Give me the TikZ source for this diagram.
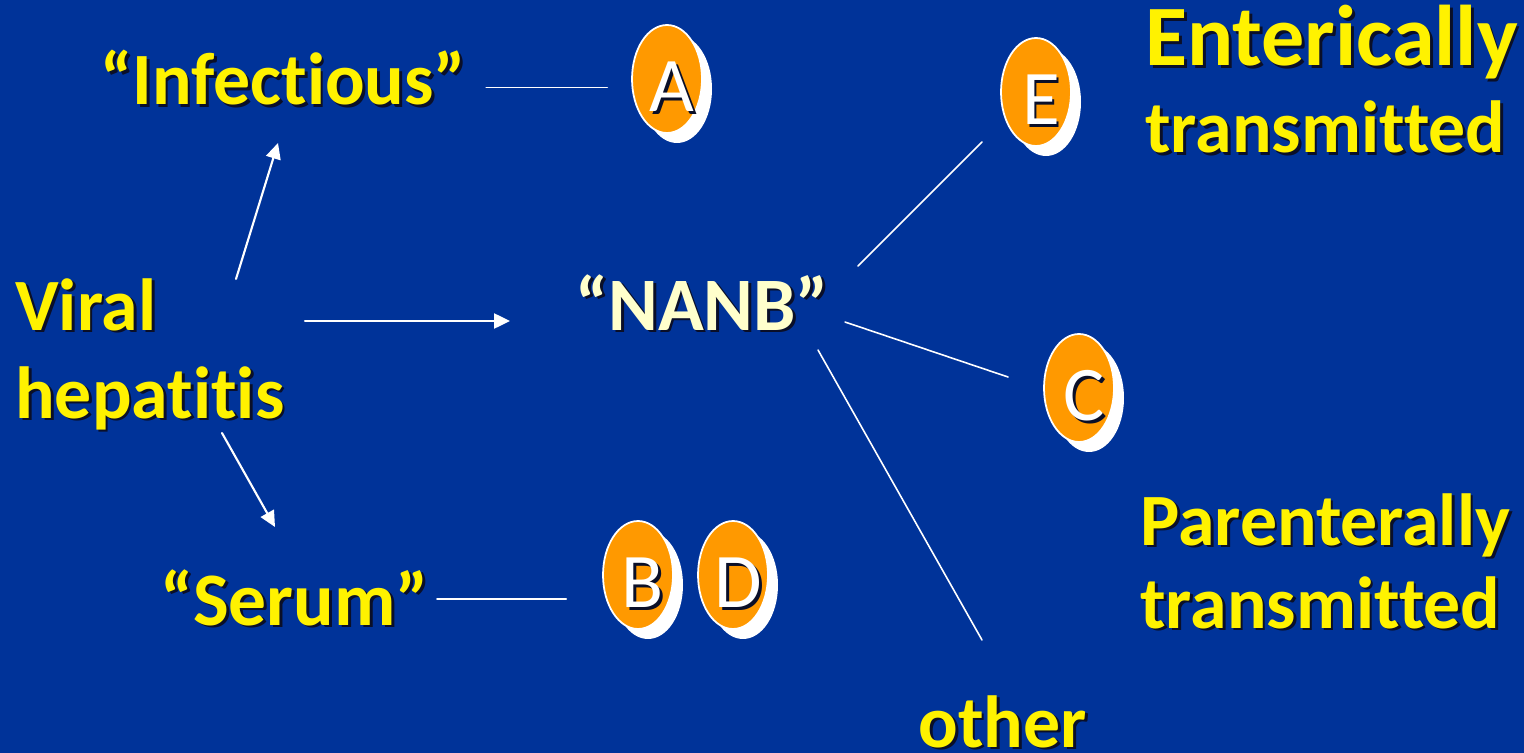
\documentclass[tikz,border=0pt]{standalone}
\usepackage{fontspec}
\setmainfont{Carlito}[Ligatures={NoCommon,NoRare,NoContextual}]
\usetikzlibrary{arrows.meta,shapes.geometric,shadows}
\definecolor{slideblue}{RGB}{0,51,153}
\definecolor{badgeorange}{RGB}{255,153,0}
\definecolor{paleyellow}{RGB}{255,255,204}
\definecolor{txtshadow}{RGB}{10,15,40}
\newcommand\sh[1]{\makebox[0pt][l]{\kern1.6pt\raisebox{-1.6pt}{\color{txtshadow}#1}}#1}
\tikzset{
    lbl/.style={font=\bfseries\fontsize{42}{50}\selectfont, text=yellow, inner sep=0pt, anchor=base west, align=left},
    badge/.style={ellipse, draw=white, line width=1pt, fill=badgeorange, minimum width=1.4cm, minimum height=2.16cm, inner sep=0pt,
        drop shadow={fill=white, opacity=1, shadow xshift=0.2cm, shadow yshift=-0.2cm}},
    letter/.style={font=\fontsize{44}{50}\selectfont, text=white, inner sep=0pt},
    link/.style={white, line width=0.9pt},
    arr/.style={white, line width=1.2pt, -{Triangle[length=9pt, width=8.5pt]}}
}
\begin{document}
\begin{tikzpicture}[x=0.02cm, y=-0.02cm, line cap=round]
    \fill[slideblue] (0,0) rectangle (1524,753);
    \useasboundingbox (0,0) rectangle (1524,753);
    % labels
    \node[lbl] (viral) at (15,418) {\sh{Viral}\\\sh{hepatitis}};
    \node[lbl] (infect) at (100,105) {\sh{“Infectious”}};
    \node[lbl, text=paleyellow, font=\bfseries\fontsize{43}{50}\selectfont] (nanb) at (575,330) {\sh{“NANB”}};
    \node[lbl, font=\bfseries\fontsize{43}{50}\selectfont] (serum) at (160,625) {\sh{“Serum”}};
    \node[lbl] (other) at (918,747) {\sh{other}};
    \node[lbl, font=\bfseries\fontsize{49}{50}\selectfont] (enter) at (1145,66) {\sh{Enterically}};
    \node[lbl] (enter2) at (1145,153) {\sh{transmitted}};
    \node[lbl] (paren) at (1140,545) {\sh{Parenterally}};
    \node[lbl] (paren2) at (1140,628) {\sh{transmitted}};
    % badges
    \foreach \n/\x/\y in {A/667/79, E/1036/92, C/1079/388, B/638/575, D/733/575} {
        \node[badge] (b\n) at (\x,\y) {};
        \node[letter] (l\n) at (\x+5,\y+9) {\sh{\n}};
    }
    % connector ends
    \coordinate (v1) at (236,279);
    \coordinate (i1) at (278,143);
    \coordinate (v2) at (222,433);
    \coordinate (s1) at (275,527);
    \coordinate (v3) at (305,321);
    \coordinate (n1) at (510,321);
    \coordinate (n2) at (858,266);
    \coordinate (e1) at (982,142);
    \coordinate (n3) at (845,322);
    \coordinate (c1) at (1008,377);
    \coordinate (n4) at (818,350);
    \coordinate (o1) at (982,640);
    % connectors
    \draw[arr] (v1) -- (i1);
    \draw[arr] (v2) -- (s1);
    \draw[arr] (v3) -- (n1);
    \draw[link, shorten <=20pt*0.567, shorten >=24pt*0.567] ([yshift=-4.5pt]infect.east) -- ([yshift=-4.5pt]infect.east -| bA.west);
    \draw[link, shorten <=8pt*0.567, shorten >=36pt*0.567] (serum.east) -- (serum.east -| bB.west);
    \draw[link] (n2) -- (e1);
    \draw[link] (n3) -- (c1);
    \draw[link] (n4) -- (o1);
\end{tikzpicture}
\end{document}
